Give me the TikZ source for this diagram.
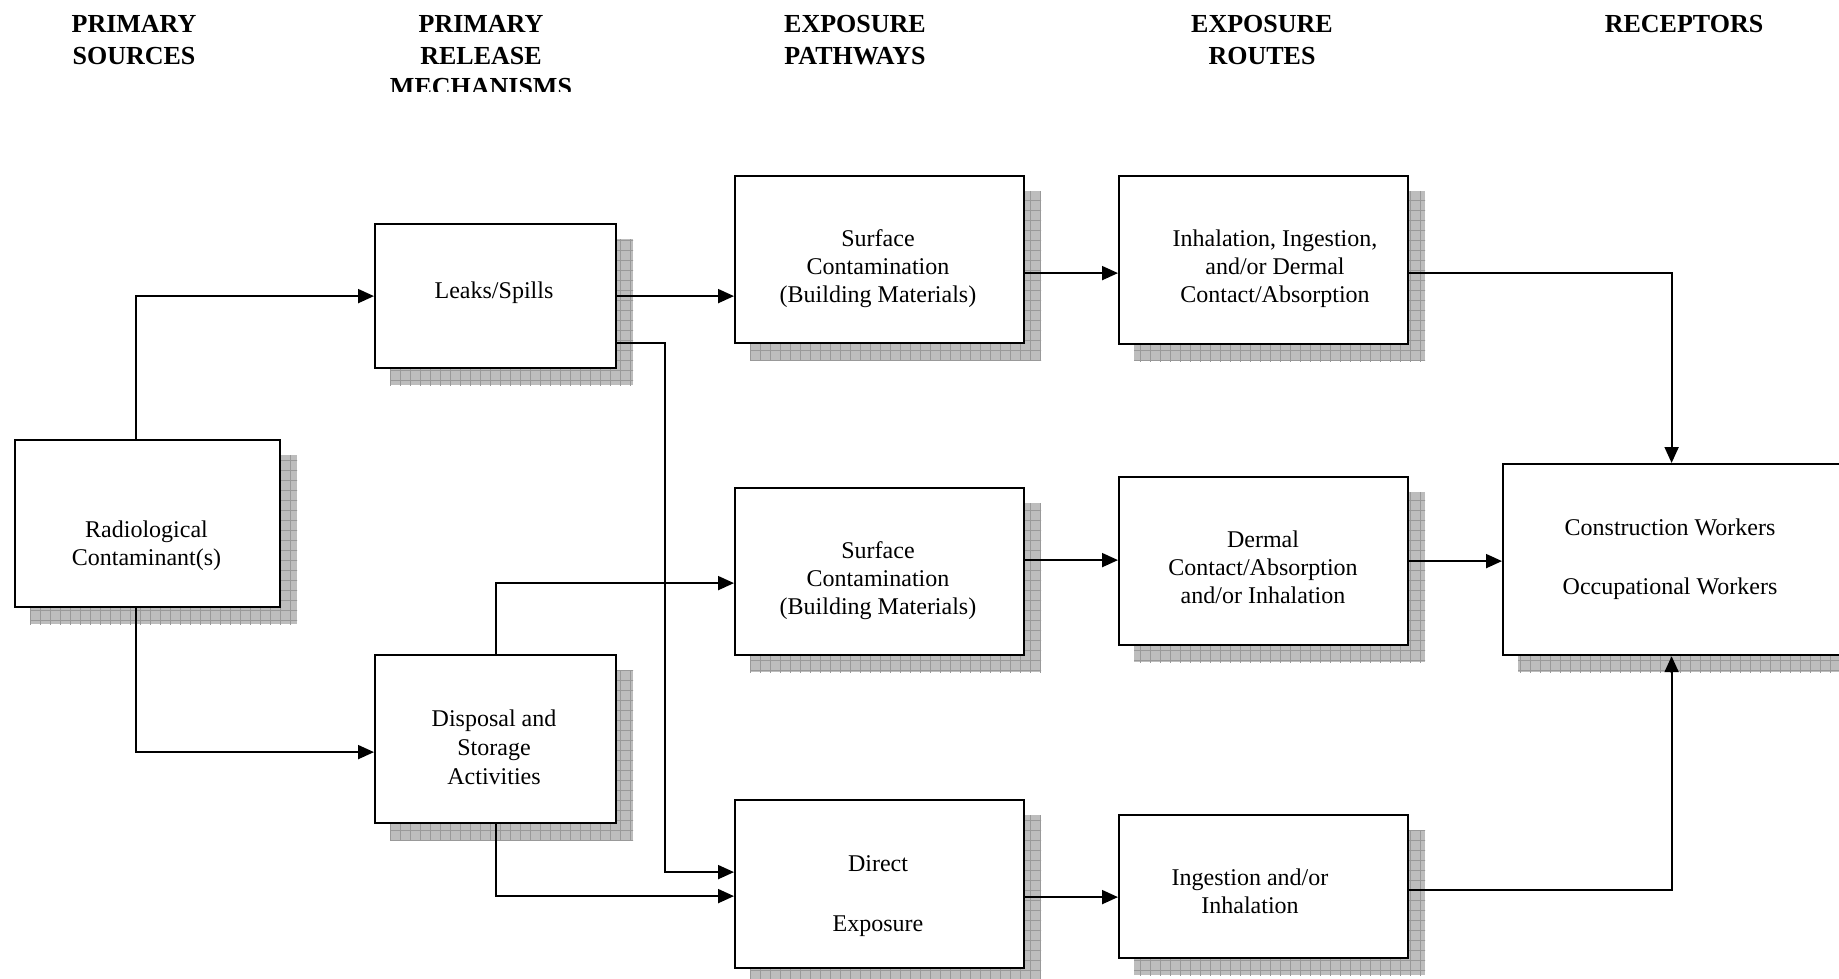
\documentclass[tikz,border=0pt]{standalone}
\usepackage{fontspec}
\setmainfont{Liberation Serif}
\usetikzlibrary{arrows.meta,backgrounds}
\tikzset{
  box/.style={draw=black, line width=2.2pt, fill=white, inner sep=0pt, anchor=north west},
  txt/.style={anchor=base, align=center, inner sep=0pt, font=\fontsize{24}{28}\selectfont},
  head/.style={anchor=base, align=center, inner sep=0pt, font=\fontsize{26}{31.5}\selectfont\bfseries},
  arr/.style={line width=2pt, -{Triangle[length=16pt,width=14pt]}},
  shadowfill/.style={fill=black!26},
  gridline/.style={draw=black!40, line width=0.9pt}
}
\newcommand{\mkbox}[5]{\node[box, minimum width=#4pt, minimum height=#5pt] (#1) at (#2,#3) {};}
\begin{document}
\begin{tikzpicture}[x=1pt,y=-1pt]
\useasboundingbox (0,0) rectangle (1839,979);
% headings (anchor base = last line baseline)
\begin{scope}
\clip (0,0) rectangle (1839,92);
\node[head] (h1) at (134,64.5) {PRIMARY\\SOURCES};
\node[head] (h2) at (481,96) {PRIMARY\\RELEASE\\MECHANISMS};
\node[head] (h3) at (855,64.5) {EXPOSURE\\PATHWAYS};
\node[head] (h4) at (1262,64.5) {EXPOSURE\\ROUTES};
\node[head] (h5) at (1684,33) {RECEPTORS};
\end{scope}
% boxes
\mkbox{rad}{14}{439}{265}{167}
\mkbox{leak}{374}{223}{241}{144}
\mkbox{disp}{374}{654}{241}{168}
\mkbox{surf1}{734}{175}{289}{167}
\mkbox{surf2}{734}{487}{289}{167}
\mkbox{direct}{734}{799}{289}{168}
\mkbox{inh}{1118}{175}{289}{168}
\mkbox{derm}{1118}{476}{289}{168}
\mkbox{ing}{1118}{814}{289}{143}
\mkbox{rec}{1502}{463}{337}{191}
% shadows
\begin{scope}[on background layer]
\foreach \n in {rad,leak,disp,surf1,surf2,direct,inh,derm,ing,rec}{
  \begin{scope}
  \clip ([shift={(16,16)}]\n.north west) rectangle ([shift={(16,16)}]\n.south east);
  \fill[shadowfill] ([shift={(16,16)}]\n.north west) rectangle ([shift={(16,16)}]\n.south east);
  \draw[gridline, step=10pt] (\n.north west) grid ([shift={(30,30)}]\n.south east);
  \end{scope}
}
\end{scope}
% texts
\node[txt] (radT) at (146.5,565) {Radiological\\Contaminant(s)};
\node[txt] (leakT) at (494,298) {Leaks/Spills};
\node[txt] (dispT) at (494,784) {Disposal and\\[1pt]Storage\\[1pt]Activities};
\node[txt] (surf1T) at (878,302) {Surface\\Contamination\\(Building Materials)};
\node[txt] (surf2T) at (878,614) {Surface\\Contamination\\(Building Materials)};
\node[txt] (directT) at (878,931) {Direct\\[32pt]Exposure};
\node[txt] (inhT) at (1275,302) {Inhalation, Ingestion,\\and/or Dermal\\Contact/Absorption};
\node[txt] (dermT) at (1263,603) {Dermal\\Contact/Absorption\\and/or Inhalation};
\node[txt] (ingT) at (1250,913) {Ingestion and/or\\Inhalation};
\node[txt] (recT) at (1670,594) {Construction Workers\\[31pt]Occupational Workers};
% connectors
\draw[arr] ([xshift=-11.5pt]rad.north) |- (leak.west);
\draw[arr] ([xshift=-11.5pt]rad.south) |- ([yshift=-13pt]disp.west);
\draw[arr] (leak.east) -- (leak.east -| surf1.west);
\draw[arr] ([yshift=-47pt]leak.east) -- ++(48,0) |- ([yshift=12pt]direct.west);
\draw[arr] (disp.north) |- ([yshift=-11.5pt]surf2.west);
\draw[arr] (disp.south) |- ([yshift=-12pt]direct.west);
\draw[arr] ([yshift=-13.5pt]surf1.east) -- ([yshift=-13.5pt]surf1.east -| inh.west);
\draw[arr] ([yshift=11.5pt]surf2.east) -- ([yshift=11.5pt]surf2.east -| derm.west);
\draw[arr] ([yshift=-13pt]direct.east) -- ([yshift=-13pt]direct.east -| ing.west);
\draw[arr] ([yshift=-13pt]inh.east) -| (rec.north);
\draw[arr] (derm.east) -- (derm.east -| rec.west);
\draw[arr] ([yshift=-3.5pt]ing.east) -| (rec.south);
\end{tikzpicture}
\end{document}
